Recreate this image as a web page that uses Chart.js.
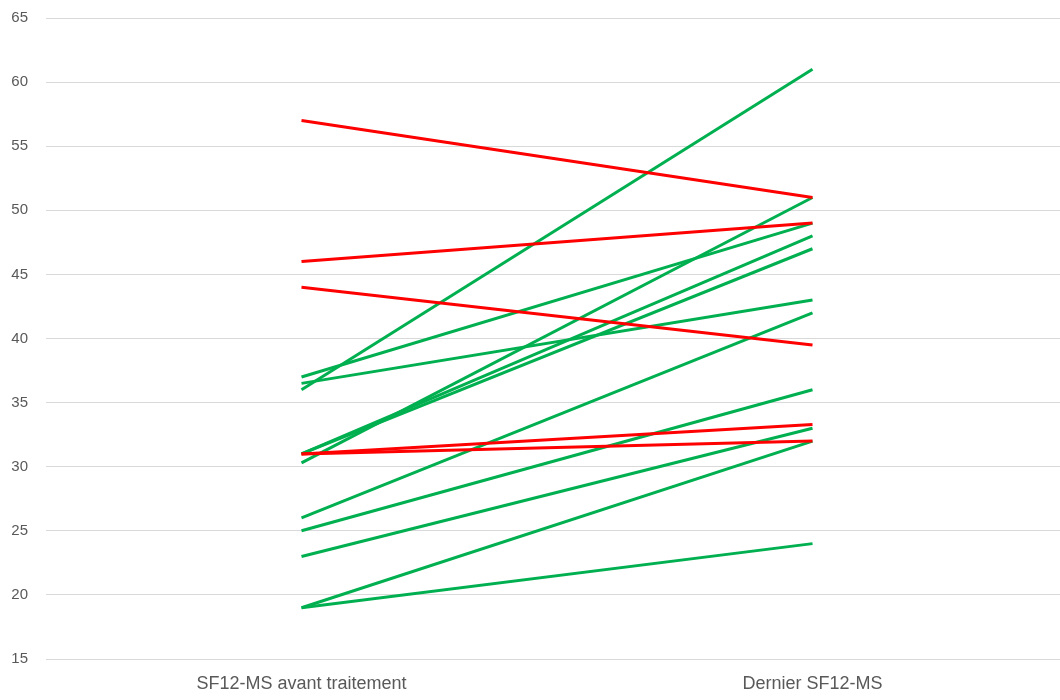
<!DOCTYPE html>
<html lang="fr">
<head>
<meta charset="utf-8">
<title>SF12-MS</title>
<script src="https://cdn.jsdelivr.net/npm/chart.js@4.4.1/dist/chart.umd.min.js"></script>
<style>
  html, body { margin: 0; padding: 0; background: #fff; overflow: hidden; }
  #frame { width: 1060px; height: 700px; overflow: hidden; }
  #wrap { width: 1068px; height: 700px; position: relative; }
</style>
</head>
<body>
<div id="frame"><div id="wrap"><canvas id="sf12Chart"></canvas></div></div>
<script>
const categories = ['SF12-MS avant traitement', 'Dernier SF12-MS'];

// scores par patient : avant / dernier
const greenBefore = [36, 37, 36.5, 30.3, 31, 31, 26, 25, 23, 19, 19];
const greenAfter = [61, 49, 43, 51, 48, 47, 42, 36, 33, 32, 24];
const redBefore = [57, 46, 44, 31, 31];
const redAfter = [51, 49, 39.5, 33.3, 32];

const yTicks = { min: 15, max: 65, step: 5 };

const GREEN = '#00b050';
const RED = '#ff0000';

function pairDatasets(before, after, color, order) {
  return before.map((value, i) => ({
    data: [value, after[i]],
    borderColor: color,
    backgroundColor: color,
    borderWidth: 3,
    pointRadius: 0,
    tension: 0,
    fill: false,
    order
  }));
}

const datasets = [
  ...pairDatasets(redBefore, redAfter, RED, 0),
  ...pairDatasets(greenBefore, greenAfter, GREEN, 1)
];

const tickFont = { family: '"Liberation Sans", Arial, sans-serif', size: 15 };

new Chart(document.getElementById('sf12Chart'), {
  type: 'line',
  data: { labels: categories, datasets },
  options: {
    responsive: true,
    maintainAspectRatio: false,
    animation: false,
    layout: { padding: 0 },
    plugins: {
      legend: { display: false },
      tooltip: { enabled: false }
    },
    scales: {
      x: {
        offset: true,
        grid: { display: false, drawTicks: false },
        border: { display: false },
        ticks: {
          color: '#595959',
          padding: 14,
          font: { family: '"Liberation Sans Narrow", "Liberation Sans", Arial, sans-serif', size: 18 }
        },
        afterFit: axis => { axis.height = 41; }
      },
      y: {
        min: yTicks.min,
        max: yTicks.max,
        grid: { color: '#d9d9d9', lineWidth: 1, drawTicks: false },
        border: { display: false },
        ticks: {
          stepSize: yTicks.step,
          color: '#595959',
          padding: 18,
          font: tickFont
        },
        afterFit: axis => {
          axis.width = 46;
          // keep the top gridline close to the canvas edge
          axis.paddingTop = 18;
          axis.paddingBottom = 0;
        }
      }
    }
  }
});
</script>
</body>
</html>
